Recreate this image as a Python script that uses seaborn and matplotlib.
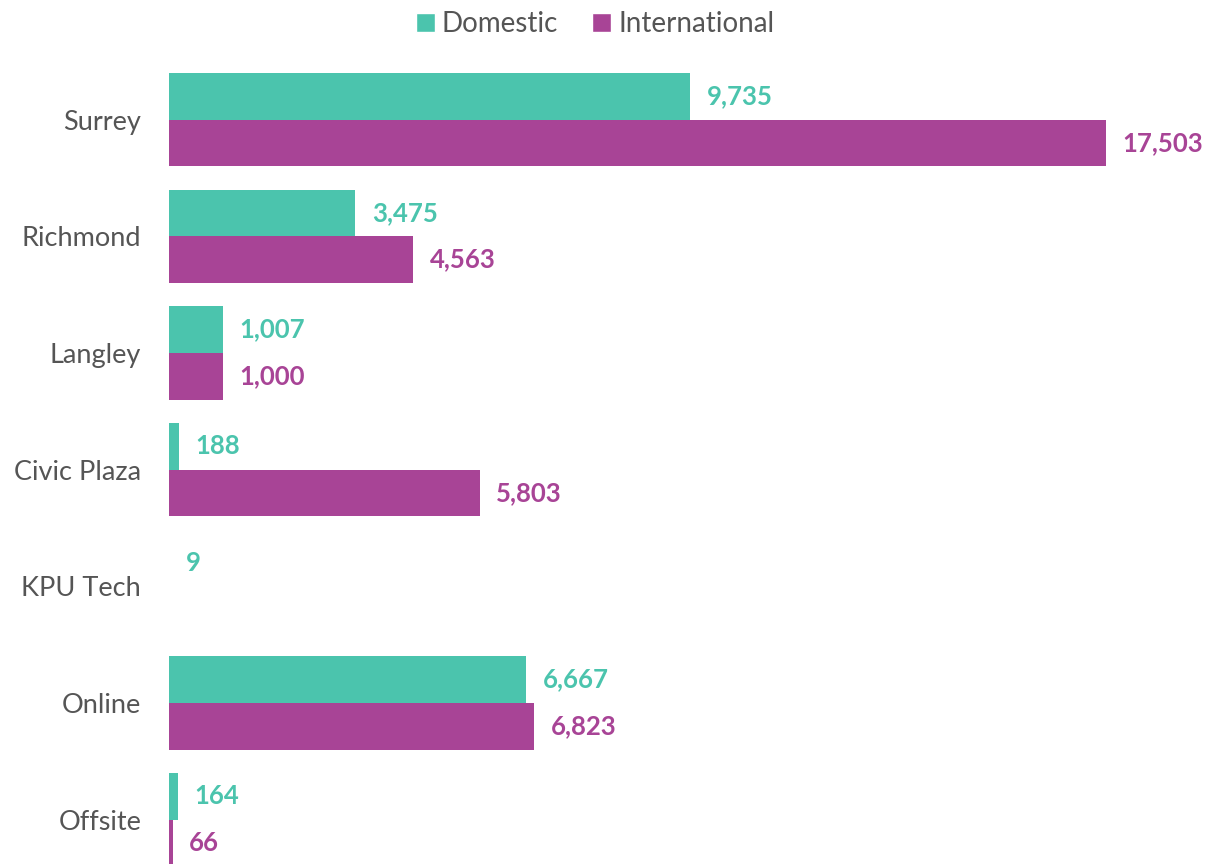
import pandas as pd
import numpy as np
import matplotlib
matplotlib.use("Agg")
import matplotlib.pyplot as plt
import seaborn as sns
from matplotlib.patches import Patch

# data
campus = ["Surrey", "Richmond", "Langley", "Civic Plaza", "KPU Tech", "Online", "Offsite"]
domestic = [9735, 3475, 1007, 188, 9, 6667, 164]
international = [17503, 4563, 1000, 5803, 0, 6823, 66]
groups = ["Domestic", "International"]
colors = ["#4BC4AD", "#A84496"]

df = pd.DataFrame({
    "campus": campus * 2,
    "group": ["Domestic"] * len(campus) + ["International"] * len(campus),
    "students": domestic + international,
})

sns.set_style("white")
plt.rcParams["font.family"] = ["Lato", "DejaVu Sans"]

fig = plt.figure(figsize=(12.14, 8.64), dpi=100)
ax = fig.add_axes([169 / 1214, -0.016, 1000 / 1214, 0.945])

sns.barplot(data=df, y="campus", x="students", hue="group", order=campus,
            hue_order=groups, palette=colors, orient="h", width=0.8,
            linewidth=0, saturation=1, ax=ax, legend=False)

ax.set_xlim(0, 1000 / (937 / 17503))
ax.set_ylim(6.5, -0.5)
ax.set_xlabel("")
ax.set_ylabel("")
ax.set_xticks([])
ax.tick_params(axis="y", length=0, labelsize=19.5, labelcolor="#555555", pad=20)
for s in ax.spines.values():
    s.set_visible(False)

# value labels
for cont, col in zip(ax.containers, colors):
    labels = [f"{v:,.0f}" if v > 0 else "" for v in cont.datavalues]
    ax.bar_label(cont, labels=labels, padding=12, color=col, fontsize=18.5,
                 fontweight="bold")

# legend on top
handles = [Patch(facecolor=c, label=g) for g, c in zip(groups, colors)]
fig.legend(handles=handles, loc="upper center", bbox_to_anchor=(0.49, 1.016),
           ncol=2, frameon=False, fontsize=20, handlelength=0.7,
           handleheight=0.7, handletextpad=0.25, columnspacing=1.2,
           labelcolor="#555555")

fig.savefig("out.png", dpi=100)
